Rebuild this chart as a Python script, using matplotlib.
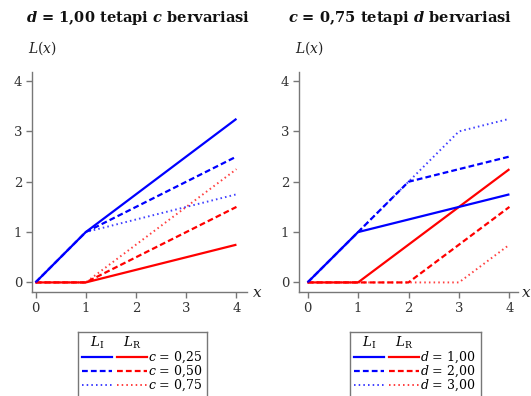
import matplotlib
matplotlib.use("Agg")
import matplotlib.pyplot as plt
from matplotlib.lines import Line2D

plt.rcParams["font.family"] = ["DejaVu Serif"]
plt.rcParams["mathtext.fontset"] = "custom"
plt.rcParams["mathtext.rm"] = "DejaVu Serif"
plt.rcParams["mathtext.it"] = "DejaVu Serif:italic"
plt.rcParams["mathtext.bf"] = "DejaVu Serif:bold"
plt.rcParams["mathtext.bfit"] = "DejaVu Serif:italic:bold"

# --- data ---
# panel kiri: d = 1,00, c bervariasi
kiri_x = [[0, 1, 4], [0, 1, 4], [0, 1, 4]]
kiri_LI = [[0, 1, 3.25], [0, 1, 2.5], [0, 1, 1.75]]
kiri_LR = [[0, 0, 0.75], [0, 0, 1.5], [0, 0, 2.25]]
kiri_label = ["$c$ = 0,25", "$c$ = 0,50", "$c$ = 0,75"]

# panel kanan: c = 0,75, d bervariasi
kanan_x = [[0, 1, 4], [0, 2, 4], [0, 3, 4]]
kanan_LI = [[0, 1, 1.75], [0, 2, 2.5], [0, 3, 3.25]]
kanan_LR = [[0, 0, 2.25], [0, 0, 1.5], [0, 0, 0.75]]
kanan_label = ["$d$ = 1,00", "$d$ = 2,00", "$d$ = 3,00"]

ticks = [0, 1, 2, 3, 4]

BIRU = "#0000ff"
MERAH = "#ff0000"
ABU = "#777777"
gaya = [
    dict(ls="-", lw=1.6, alpha=1.0),
    dict(ls=(0, (2.6, 1.4)), lw=1.6, alpha=1.0),
    dict(ls=(0, (0.8, 1.6)), lw=1.4, alpha=0.75),
]

W, H = 531, 396
fig = plt.figure(figsize=(W / 100, H / 100), dpi=100)


def px_box(x0, y0, x1, y1):
    # pixel box (top-left origin) -> figure fraction
    return [x0 / W, 1 - y1 / H, (x1 - x0) / W, (y1 - y0) / H]


def panel(box, xlim, xs, LI, LR, judul, judul_x):
    ax = fig.add_axes(box)
    for i in range(3):
        ax.plot(xs[i], LR[i], color=MERAH, solid_capstyle="butt", **gaya[i])
        ax.plot(xs[i], LI[i], color=BIRU, solid_capstyle="butt", **gaya[i])
    ax.set_xlim(*xlim)
    ax.set_ylim(-0.19, 4.18)
    ax.set_xticks(ticks)
    ax.set_yticks(ticks)
    for s in ["top", "right"]:
        ax.spines[s].set_visible(False)
    for s in ["left", "bottom"]:
        ax.spines[s].set_color(ABU)
        ax.spines[s].set_linewidth(1.0)
    ax.tick_params(direction="out", length=4, width=1.0, color=ABU,
                   labelsize=9.5, labelcolor="#333333", pad=3)
    ax.patch.set_alpha(0)
    fig.text(judul_x / W, 1 - 18 / H, judul, ha="center", va="center",
             fontsize=10.5, fontweight="bold", color="#111111")
    return ax


ax1 = panel(px_box(32, 72, 247, 292), (-0.07, 4.21), kiri_x, kiri_LI, kiri_LR,
            r"$\mathbfit{d}$ = 1,00 tetapi $\mathbfit{c}$ bervariasi", 138)
ax2 = panel(px_box(299, 72, 518, 292), (-0.17, 4.17), kanan_x, kanan_LI, kanan_LR,
            r"$\mathbfit{c}$ = 0,75 tetapi $\mathbfit{d}$ bervariasi", 400)

fig.text(28 / W, 1 - 48 / H, "$L(x)$", fontsize=10, va="center", ha="left", color="#222222")
fig.text(295 / W, 1 - 48 / H, "$L(x)$", fontsize=10, va="center", ha="left", color="#222222")
fig.text(257 / W, 1 - 293 / H, "$x$", fontsize=11, va="center", ha="center", color="#222222")
fig.text(526 / W, 1 - 293 / H, "$x$", fontsize=11, va="center", ha="center", color="#222222")


def kotak_legenda(x0, x1, labels):
    lg = fig.add_axes(px_box(x0, 332, x1, 410))
    lg.set_xlim(x0, x1)
    lg.set_ylim(410, 332)
    lg.set_xticks([])
    lg.set_yticks([])
    for s in lg.spines.values():
        s.set_color(ABU)
        s.set_linewidth(1.0)
    bx0, bx1 = x0 + 4, x0 + 34
    rx0, rx1 = x0 + 39, x0 + 69
    lg.text((bx0 + bx1) / 2, 343, r"$L_\mathrm{I}$", ha="center", va="center", fontsize=9.5)
    lg.text((rx0 + rx1) / 2, 343, r"$L_\mathrm{R}$", ha="center", va="center", fontsize=9.5)
    for i, lab in enumerate(labels):
        y = 357 + 14 * i
        lg.add_line(Line2D([bx0, bx1], [y, y], color=BIRU, **gaya[i]))
        lg.add_line(Line2D([rx0, rx1], [y, y], color=MERAH, **gaya[i]))
        lg.text(rx1 + 1, y, lab, ha="left", va="center", fontsize=9)


kotak_legenda(78, 207, kiri_label)
kotak_legenda(350, 481, kanan_label)

fig.savefig("out.png", dpi=100)
